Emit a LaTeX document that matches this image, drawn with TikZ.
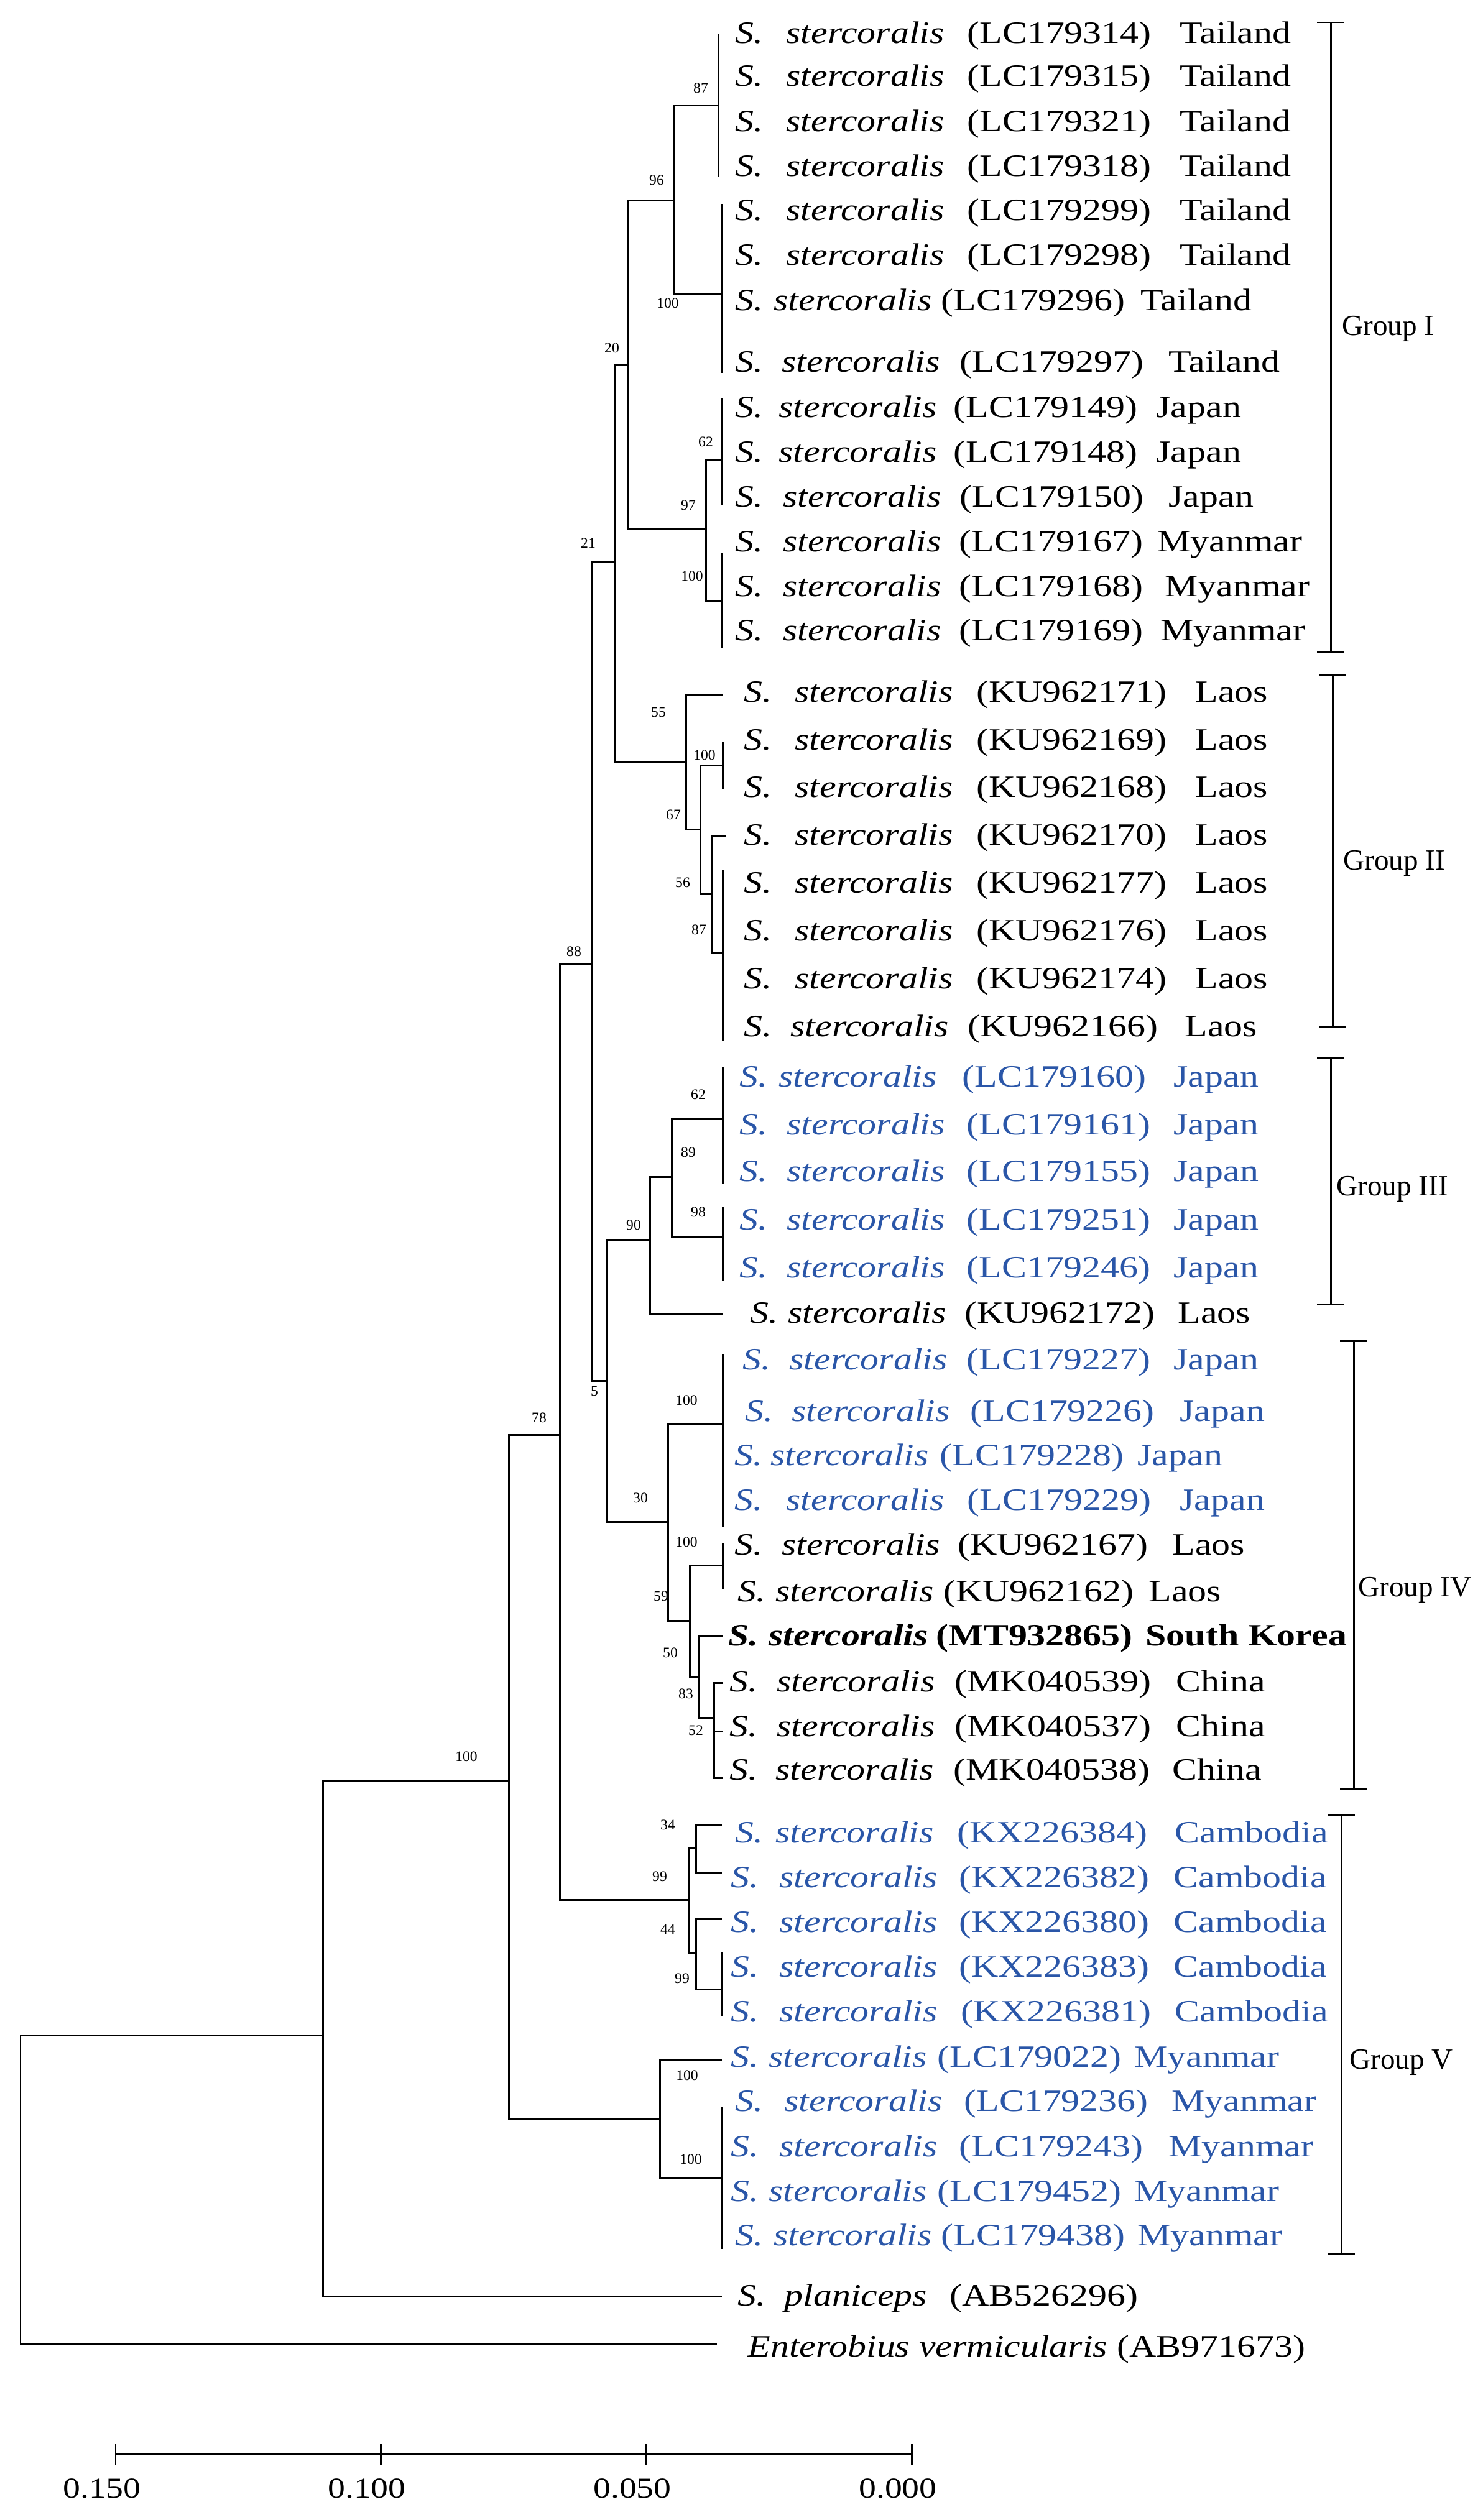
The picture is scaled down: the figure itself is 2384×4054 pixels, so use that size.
\documentclass[tikz,border=0pt]{standalone}
\usepackage{fontspec}
\setmainfont{Liberation Serif}[FakeStretch=1.2]
\newfontfamily\plainserif{Liberation Serif}
\definecolor{tblue}{RGB}{42,86,168}
\tikzset{
 lab/.style={anchor=base west, inner sep=0pt, font=\fontsize{14.2pt}{16pt}\selectfont},
 bs/.style={inner sep=0pt, font=\plainserif\fontsize{6.7pt}{8pt}\selectfont},
 grp/.style={anchor=west, inner sep=0pt, font=\plainserif\fontsize{13.4pt}{15pt}\selectfont},
 sclab/.style={anchor=center, inner sep=0pt, font=\fontsize{13.2pt}{15pt}\selectfont},
}
% #1 id, #2 y(centre), #3-#6 x of the four parts, #7 accession, #8 country, #9 colour
\newcommand\tx[9]{%
 \node[lab,text=#9] (#1s) at (#3,#2+16) {\textit{S.}};
 \node[lab,text=#9] (#1g) at (#4,#2+16) {\textit{stercoralis}};
 \node[lab,text=#9] (#1a) at (#5,#2+16) {(#7)};
 \node[lab,text=#9] (#1c) at (#6,#2+16) {#8};}
\begin{document}
\begin{tikzpicture}[x=0.01cm,y=-0.01cm,line width=0.85pt]
\useasboundingbox (0,0) rectangle (2384,4054);
\fill[white] (0,0) rectangle (2384,4054);

% ---------------- tree ----------------
% Group I
\draw (1155,54) -- (1155,284);
\draw (1161,328) -- (1161,600);
\draw (1155,170) -- (1083,170) -- (1083,473) -- (1161,473);
\draw (1083,322) -- (1010,322) -- (1010,851) -- (1135,851);
\draw (1161,740) -- (1135,740) -- (1135,966) -- (1161,966);
\draw (1161,641) -- (1161,813);
\draw (1161,890) -- (1161,1042);
\draw (1010,587) -- (988,587) -- (988,1225) -- (1103,1225);
\draw (988,904) -- (951,904) -- (951,2221) -- (975,2221);
\draw (951,1551) -- (900,1551) -- (900,3056) -- (1107,3056);
\draw (900,2308) -- (818,2308) -- (818,3408) -- (1061,3408);
\draw (818,2865) -- (519,2865) -- (519,3694) -- (1161,3694);
\draw (519,3274) -- (33,3274) -- (33,3770) -- (1153,3770);
% Group II
\draw (1162,1117) -- (1103,1117) -- (1103,1334) -- (1126,1334);
\draw (1162,1231) -- (1126,1231) -- (1126,1438) -- (1144,1438);
\draw (1162,1193) -- (1162,1269);
\draw (1168,1344) -- (1144,1344) -- (1144,1533) -- (1162,1533);
\draw (1162,1400) -- (1162,1674);
% Group III
\draw (1080,1893) -- (1045,1893) -- (1045,2114) -- (1163,2114);
\draw (1045,1995) -- (975,1995) -- (975,2448) -- (1074,2448);
\draw (1162,1800) -- (1080,1800) -- (1080,1989) -- (1162,1989);
\draw (1162,1717) -- (1162,1904);
\draw (1162,1942) -- (1162,2060);
% Group IV
\draw (1162,2291) -- (1074,2291) -- (1074,2607) -- (1109,2607);
\draw (1162,2178) -- (1162,2456);
\draw (1162,2518) -- (1109,2518) -- (1109,2698) -- (1123,2698);
\draw (1162,2482) -- (1162,2557);
\draw (1163,2632) -- (1123,2632) -- (1123,2763) -- (1148,2763);
\draw (1163,2707) -- (1148,2707) -- (1148,2860) -- (1163,2860);
\draw (1148,2785) -- (1163,2785);
% Group V
\draw (1119,2973) -- (1107,2973) -- (1107,3142) -- (1119,3142);
\draw (1161,2936) -- (1119,2936) -- (1119,3012) -- (1161,3012);
\draw (1161,3087) -- (1119,3087) -- (1119,3200) -- (1161,3200);
\draw (1161,3140) -- (1161,3243);
\draw (1161,3313) -- (1061,3313) -- (1061,3504) -- (1161,3504);
\draw (1161,3389) -- (1161,3618);

% ---------------- bootstrap values ----------------
\node[bs] (b87a) at (1127,142) {87};
\node[bs] (b100a) at (1074,488) {100};
\node[bs] (b96) at (1056,290) {96};
\node[bs] (b20) at (984,560) {20};
\node[bs] (b97) at (1107,813) {97};
\node[bs] (b62a) at (1135,711) {62};
\node[bs] (b100b) at (1113,927) {100};
\node[bs] (b21) at (946,874) {21};
\node[bs] (b55) at (1059,1146) {55};
\node[bs] (b100c) at (1133,1215) {100};
\node[bs] (b67) at (1083,1311) {67};
\node[bs] (b56) at (1098,1420) {56};
\node[bs] (b87b) at (1124,1496) {87};
\node[bs] (b88) at (923,1531) {88};
\node[bs] (b62b) at (1123,1761) {62};
\node[bs] (b89) at (1107,1854) {89};
\node[bs] (b98) at (1123,1950) {98};
\node[bs] (b90) at (1019,1971) {90};
\node[bs] (b5) at (956,2238) {5};
\node[bs] (b100d) at (1104,2253) {100};
\node[bs] (b78) at (867,2281) {78};
\node[bs] (b30) at (1030,2410) {30};
\node[bs] (b100e) at (1104,2481) {100};
\node[bs] (b59) at (1063,2568) {59};
\node[bs] (b50) at (1078,2659) {50};
\node[bs] (b83) at (1103,2725) {83};
\node[bs] (b52) at (1119,2784) {52};
\node[bs] (b100f) at (750,2826) {100};
\node[bs] (b34) at (1074,2936) {34};
\node[bs] (b99a) at (1061,3019) {99};
\node[bs] (b44) at (1074,3104) {44};
\node[bs] (b99b) at (1097,3183) {99};
\node[bs] (b100g) at (1105,3339) {100};
\node[bs] (b100h) at (1111,3474) {100};

% ---------------- taxa ----------------
\tx{r1}{53}{1181}{1263}{1554}{1896}{LC179314}{Tailand}{black}
\tx{r2}{122}{1181}{1263}{1554}{1896}{LC179315}{Tailand}{black}
\tx{r3}{195}{1181}{1263}{1554}{1896}{LC179321}{Tailand}{black}
\tx{r4}{267}{1181}{1263}{1554}{1896}{LC179318}{Tailand}{black}
\tx{r5}{338}{1181}{1263}{1554}{1896}{LC179299}{Tailand}{black}
\tx{r6}{410}{1181}{1263}{1554}{1896}{LC179298}{Tailand}{black}
\tx{r7}{483}{1181}{1243}{1512}{1833}{LC179296}{Tailand}{black}
\tx{r8}{582}{1181}{1256}{1542}{1878}{LC179297}{Tailand}{black}
\tx{r9}{655}{1181}{1251}{1532}{1858}{LC179149}{Japan}{black}
\tx{r10}{727}{1181}{1251}{1532}{1858}{LC179148}{Japan}{black}
\tx{r11}{799}{1181}{1258}{1542}{1878}{LC179150}{Japan}{black}
\tx{r12}{871}{1181}{1258}{1541}{1860}{LC179167}{Myanmar}{black}
\tx{r13}{943}{1181}{1258}{1541}{1872}{LC179168}{Myanmar}{black}
\tx{r14}{1014}{1181}{1258}{1541}{1865}{LC179169}{Myanmar}{black}
\tx{r15}{1113}{1195}{1277}{1569}{1921}{KU962171}{Laos}{black}
\tx{r16}{1190}{1195}{1277}{1569}{1921}{KU962169}{Laos}{black}
\tx{r17}{1266}{1195}{1277}{1569}{1921}{KU962168}{Laos}{black}
\tx{r18}{1343}{1195}{1277}{1569}{1921}{KU962170}{Laos}{black}
\tx{r19}{1420}{1195}{1277}{1569}{1921}{KU962177}{Laos}{black}
\tx{r20}{1497}{1195}{1277}{1569}{1921}{KU962176}{Laos}{black}
\tx{r21}{1574}{1195}{1277}{1569}{1921}{KU962174}{Laos}{black}
\tx{r22}{1651}{1195}{1270}{1555}{1904}{KU962166}{Laos}{black}
\tx{r23}{1732}{1188}{1251}{1546}{1886}{LC179160}{Japan}{tblue}
\tx{r24}{1809}{1188}{1264}{1553}{1886}{LC179161}{Japan}{tblue}
\tx{r25}{1884}{1188}{1264}{1553}{1886}{LC179155}{Japan}{tblue}
\tx{r26}{1962}{1188}{1264}{1553}{1886}{LC179251}{Japan}{tblue}
\tx{r27}{2039}{1188}{1264}{1553}{1886}{LC179246}{Japan}{tblue}
\tx{r28}{2112}{1205}{1266}{1550}{1893}{KU962172}{Laos}{black}
\tx{r29}{2187}{1193}{1268}{1553}{1886}{LC179227}{Japan}{tblue}
\tx{r30}{2270}{1197}{1272}{1559}{1896}{LC179226}{Japan}{tblue}
\tx{r31}{2341}{1180}{1238}{1510}{1828}{LC179228}{Japan}{tblue}
\tx{r32}{2413}{1180}{1263}{1554}{1896}{LC179229}{Japan}{tblue}
\tx{r33}{2485}{1180}{1256}{1539}{1884}{KU962167}{Laos}{black}
\tx{r34}{2560}{1185}{1246}{1516}{1846}{KU962162}{Laos}{black}
\node[lab] (r35s) at (1170,2647) {\bfseries\itshape S.};
\node[lab] (r35g) at (1235,2647) {\bfseries\itshape stercoralis};
\node[lab] (r35a) at (1504,2647) {\bfseries (MT932865)};
\node[lab] (r35c) at (1841,2647) {\bfseries South Korea};
\tx{r36}{2705}{1172}{1248}{1534}{1890}{MK040539}{China}{black}
\tx{r37}{2777}{1172}{1248}{1534}{1890}{MK040537}{China}{black}
\tx{r38}{2847}{1172}{1246}{1532}{1884}{MK040538}{China}{black}
\tx{r39}{2948}{1181}{1246}{1538}{1888}{KX226384}{Cambodia}{tblue}
\tx{r40}{3020}{1174}{1252}{1541}{1886}{KX226382}{Cambodia}{tblue}
\tx{r41}{3092}{1174}{1252}{1541}{1886}{KX226380}{Cambodia}{tblue}
\tx{r42}{3164}{1174}{1252}{1541}{1886}{KX226383}{Cambodia}{tblue}
\tx{r43}{3236}{1174}{1252}{1544}{1888}{KX226381}{Cambodia}{tblue}
\tx{r44}{3309}{1174}{1235}{1506}{1823}{LC179022}{Myanmar}{tblue}
\tx{r45}{3380}{1181}{1260}{1549}{1883}{LC179236}{Myanmar}{tblue}
\tx{r46}{3453}{1174}{1252}{1541}{1878}{LC179243}{Myanmar}{tblue}
\tx{r47}{3525}{1174}{1235}{1506}{1823}{LC179452}{Myanmar}{tblue}
\tx{r48}{3596}{1181}{1243}{1512}{1828}{LC179438}{Myanmar}{tblue}
\node[lab] (r49s) at (1185,3709) {\textit{S.}};
\node[lab] (r49g) at (1260,3709) {\textit{planiceps}};
\node[lab] (r49a) at (1526,3709) {(AB526296)};
\node[lab] (r50g) at (1201,3791) {\textit{Enterobius vermicularis}};
\node[lab] (r50a) at (1795,3791) {(AB971673)};

% ---------------- groups ----------------
\draw (2118,36) -- (2162,36) (2140,36) -- (2140,1048) (2118,1048) -- (2162,1048);
\node[grp] (g1) at (2157,529) {Group I};
\draw (2121,1086) -- (2165,1086) (2143,1086) -- (2143,1652) (2121,1652) -- (2165,1652);
\node[grp] (g2) at (2159,1389) {Group II};
\draw (2118,1701) -- (2162,1701) (2140,1701) -- (2140,2098) (2118,2098) -- (2162,2098);
\node[grp] (g3) at (2148,1913) {Group III};
\draw (2155,2157) -- (2199,2157) (2177,2157) -- (2177,2878) (2155,2878) -- (2199,2878);
\node[grp] (g4) at (2183,2558) {Group IV};
\draw (2135,2920) -- (2179,2920) (2157,2920) -- (2157,3625) (2135,3625) -- (2179,3625);
\node[grp] (g5) at (2169,3318) {Group V};

% ---------------- scale ----------------
\draw[line width=1.3pt] (186,3948) -- (1466,3948);
\foreach \t in {186,612,1039,1466} \draw (\t,3932) -- (\t,3965);
\node[sclab] (s150) at (164,4003) {0.150};
\node[sclab] (s100) at (590,4003) {0.100};
\node[sclab] (s050) at (1017,4003) {0.050};
\node[sclab] (s000) at (1444,4003) {0.000};
\end{tikzpicture}
\end{document}
